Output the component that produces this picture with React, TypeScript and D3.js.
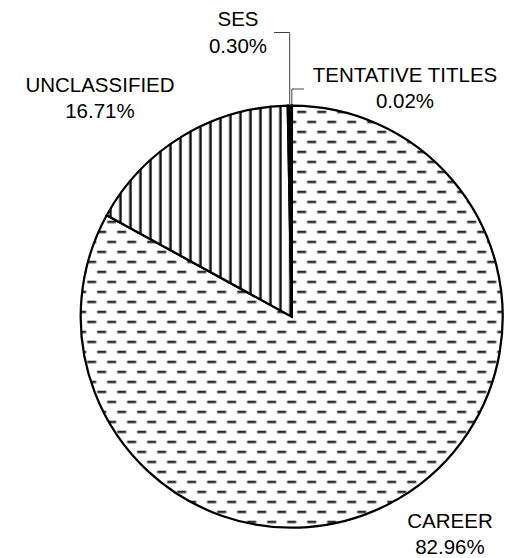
import * as d3 from "d3";

// Slice data, clockwise from 12 o'clock
const categories = ["TENTATIVE TITLES", "CAREER", "UNCLASSIFIED", "SES"];
const shares = [0.02, 82.96, 16.71, 0.3];
const fills = ["url(#solid-dark)", "url(#dash-h)", "url(#stripe-v)", "#000"];

// Label placement (center x, first baseline), leader line elbow for the tiny slices
const labelLayout: Record<string, { x: number; y: number; leader?: { elbowY: number; endX: number } }> = {
  "TENTATIVE TITLES": { x: 405, y: 81.5, leader: { elbowY: 89, endX: 304 } },
  CAREER: { x: 450, y: 527.5 },
  UNCLASSIFIED: { x: 100, y: 91.5 },
  SES: { x: 238, y: 26, leader: { elbowY: 32.5, endX: 274 } },
};

const W = 518;
const H = 558;
const cx = 291.7;
const cy = 316.7;
const R = 211;
const lineGap = 26.5;

export default function App() {
  const pie = d3.pie<number>().sort(null).value((d) => d);
  const arcs = pie(shares);
  const arc = d3.arc<d3.PieArcDatum<number>>().innerRadius(0).outerRadius(R);
  const fmt = d3.format(".2f");

  return (
    <svg
      width={W}
      height={H}
      style={{ position: "absolute", left: 0, top: 0, background: "#fff" }}
      fontFamily="'Liberation Sans', Arial, sans-serif"
    >
      <defs>
        <pattern id="dash-h" width={20} height={20} patternUnits="userSpaceOnUse">
          <rect width={20} height={20} fill="#fff" />
          <rect x={15.5} y={4} width={9} height={2.5} fill="#2a2a2a" />
          <rect x={-4.5} y={4} width={9} height={2.5} fill="#2a2a2a" />
          <rect x={5.5} y={14} width={9} height={2.5} fill="#2a2a2a" />
        </pattern>
        <pattern id="stripe-v" width={10} height={10} patternUnits="userSpaceOnUse">
          <rect width={10} height={10} fill="#fff" />
          <rect x={7.5} y={0} width={2.5} height={10} fill="#111" />
        </pattern>
        <pattern id="solid-dark" width={4} height={4} patternUnits="userSpaceOnUse">
          <rect width={4} height={4} fill="#000" />
        </pattern>
      </defs>

      <g transform={`translate(${cx},${cy})`}>
        {arcs.map((a, i) => (
          <path
            key={categories[i]}
            d={arc(a) ?? ""}
            fill={fills[i]}
            stroke="#000"
            strokeWidth={2.25}
            strokeLinejoin="miter"
          />
        ))}
      </g>

      {arcs.map((a, i) => {
        const name = categories[i];
        const lay = labelLayout[name];
        const mid = (a.startAngle + a.endAngle) / 2;
        const px = cx + R * Math.sin(mid);
        const py = cy - R * Math.cos(mid);
        return (
          <g key={name}>
            {lay.leader && (
              <polyline
                points={`${px},${py} ${px},${lay.leader.elbowY} ${lay.leader.endX},${lay.leader.elbowY}`}
                fill="none"
                stroke="#404040"
                strokeWidth={1}
              />
            )}
            <text x={lay.x} y={lay.y} textAnchor="middle" fontSize={20.5} fill="#000">
              {name}
            </text>
            <text x={lay.x} y={lay.y + lineGap} textAnchor="middle" fontSize={20.5} fill="#000">
              {fmt(shares[i])}%
            </text>
          </g>
        );
      })}
    </svg>
  );
}
